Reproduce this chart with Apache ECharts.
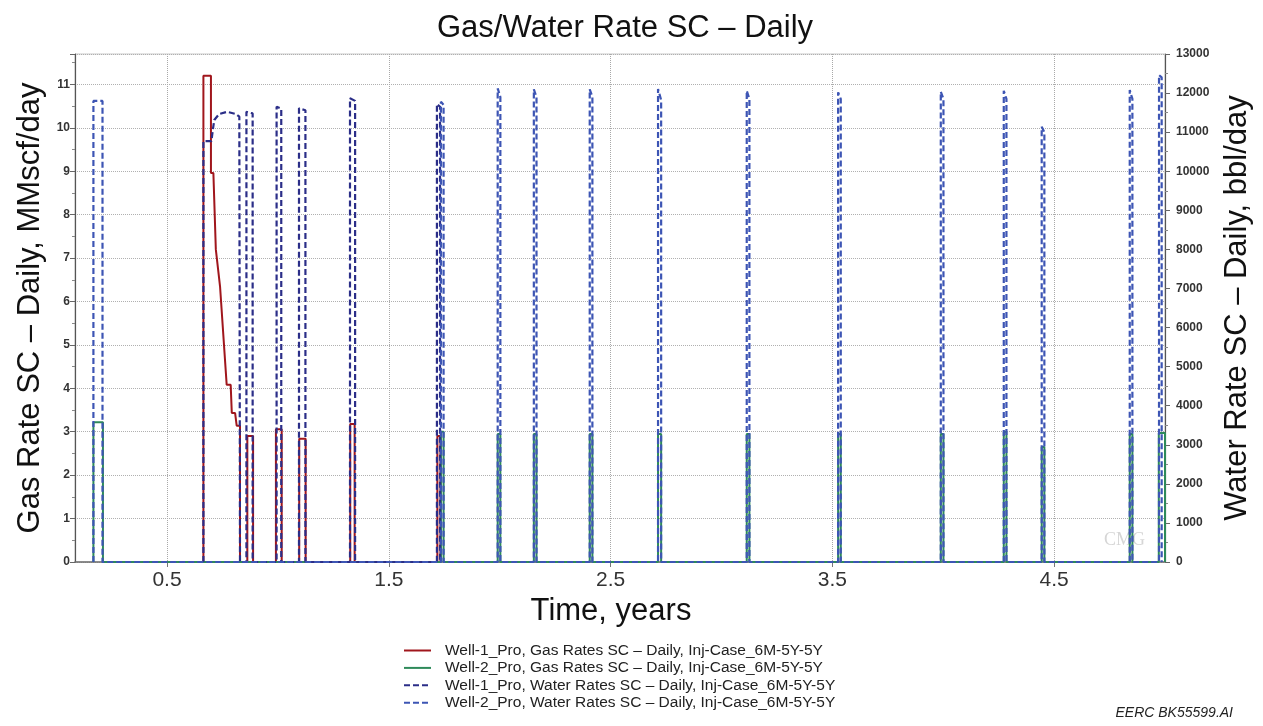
<!DOCTYPE html>
<html>
<head>
<meta charset="utf-8">
<script src="https://cdn.jsdelivr.net/npm/echarts@6/dist/echarts.min.js"></script>
<style>
html,body{margin:0;padding:0;background:#fff;}
#chart{width:1263px;height:726px;}
</style>
</head>
<body>
<div id="chart"></div>
<script>
// ---------- DATA ----------
const chartTitle = 'Gas/Water Rate SC \u2013 Daily';
const seriesNames = [
  'Well-1_Pro, Gas Rates SC \u2013 Daily, Inj-Case_6M-5Y-5Y',
  'Well-2_Pro, Gas Rates SC \u2013 Daily, Inj-Case_6M-5Y-5Y',
  'Well-1_Pro, Water Rates SC \u2013 Daily, Inj-Case_6M-5Y-5Y',
  'Well-2_Pro, Water Rates SC \u2013 Daily, Inj-Case_6M-5Y-5Y'
];
const xTickLabels = [0.5, 1.5, 2.5, 3.5, 4.5];
const leftTicks = [0,1,2,3,4,5,6,7,8,9,10,11];
const rightTicks = [0,1000,2000,3000,4000,5000,6000,7000,8000,9000,10000,11000,12000,13000];

// Well-1 gas rate (MMscf/day)
const w1GasT = [0.664,0.664,0.698,0.698,0.709,0.720,0.729,0.739,0.769,0.787,0.792,0.807,0.814,0.829,0.829,
  0.862,0.862,0.888,0.888, 0.991,0.991,1.017,1.017, 1.096,1.096,1.125,1.125, 1.326,1.326,1.346,1.346,
  1.719,1.719,1.733,1.733];
const w1GasV = [0,11.2,11.2,8.96,8.96,7.2,7.2,6.35,4.08,4.08,3.43,3.43,3.14,3.14,0,
  0,2.9,2.9,0, 0,3.06,3.06,0, 0,2.84,2.84,0, 0,3.18,3.18,0,
  0,2.9,2.9,0];

// Well-2 gas rate (MMscf/day)
const w2GasT = [0.168,0.168,0.211,0.211, 1.735,1.735,1.747,1.747, 1.991,1.991,2.003,2.003,
  2.154,2.154,2.166,2.166, 2.406,2.406,2.418,2.418, 2.714,2.714,2.728,2.728, 3.114,3.114,3.126,3.126,
  3.526,3.526,3.538,3.538, 3.989,3.989,4.001,4.001, 4.273,4.273,4.285,4.285, 4.444,4.444,4.456,4.456,
  4.841,4.841,4.853,4.853, 4.972,4.972,5.0,5.0];
const w2GasV = [0,3.22,3.22,0, 0,3.0,3.0,0, 0,2.95,2.95,0,
  0,2.95,2.95,0, 0,2.95,2.95,0, 0,2.95,2.95,0, 0,2.95,2.95,0,
  0,2.95,2.95,0, 0,2.95,2.95,0, 0,3.0,3.0,0, 0,2.65,2.65,0,
  0,2.95,2.95,0, 0,2.97,2.97,0];

// Well-1 water rate (bbl/day)
const w1WaterT = [0.664,0.664,0.700,0.707,0.713,0.735,0.772,0.810,0.826,0.829,
  0.858,0.858,0.886,0.886, 0.994,0.994,1.015,1.015, 1.095,1.095,1.124,1.124,
  1.325,1.325,1.348,1.348, 1.717,1.717,1.731,1.731];
const w1WaterV = [0,10770,10770,11080,11310,11465,11520,11465,11395,0,
  0,11520,11480,0, 0,11650,11600,0, 0,11610,11560,0,
  0,11866,11800,0, 0,11720,11650,0];

// Well-2 water rate (bbl/day)
const w2WaterT = [0.168,0.168,0.209,0.209, 1.735,1.735,1.747,1.747, 1.991,1.991,2.003,2.003,
  2.154,2.154,2.166,2.166, 2.406,2.406,2.418,2.418, 2.714,2.714,2.728,2.728, 3.114,3.114,3.126,3.126,
  3.526,3.526,3.538,3.538, 3.989,3.989,4.001,4.001, 4.273,4.273,4.285,4.285, 4.444,4.444,4.456,4.456,
  4.841,4.841,4.853,4.853, 4.973,4.973,4.985,4.985];
const w2WaterV = [0,11800,11800,0, 0,11780,11700,0, 0,12120,11900,0,
  0,12096,11900,0, 0,12096,11900,0, 0,12104,11823,0, 0,12060,11850,0,
  0,12019,11850,0, 0,12035,11850,0, 0,12060,11850,0, 0,11140,11000,0,
  0,12079,11850,0, 0,12460,12400,0];

const colors = ['#A0161C', '#2E8A5A', '#2B2E88', '#3D55B4'];

// ---------- BUILD ----------
function zip(t, v){ return t.map((x,i)=>[x, v[i]]); }
const FONT = '"Liberation Sans", Arial, sans-serif';

const chart = echarts.init(document.getElementById('chart'), null, {renderer:'canvas'});
const option = {
  backgroundColor: '#fff',
  animation: false,
  title: {
    text: chartTitle, left: 620, top: 8, textAlign: 'center',
    textStyle: {fontFamily: FONT, fontSize: 31, fontWeight: 'normal', color: '#111'}
  },
  legend: {
    orient: 'vertical', left: 403, top: 642, padding: 0,
    itemWidth: 27, itemHeight: 14, itemGap: 0.4,
    data: seriesNames,
    itemStyle: {opacity: 0},
    textStyle: {fontFamily: FONT, fontSize: 15.5, lineHeight: 17, color: '#222', padding: [0, 0, 0, 9]}
  },
  grid: {left: 75, right: 98, top: 54, bottom: 164, show: true, borderColor: '#c8c8c8', borderWidth: 1, containLabel: false},
  xAxis: {
    type: 'value', min: 0.085, max: 5.0,
    name: 'Time, years', nameLocation: 'middle', nameGap: 31,
    nameTextStyle: {fontFamily: FONT, fontSize: 31, color: '#111', padding: [0, 18, 0, 0]},
    axisLine: {show: true, onZero: false, lineStyle: {color: '#6d6d6d', width: 1.5}},
    axisTick: {show: true, customValues: xTickLabels, length: 5, lineStyle: {color: '#777'}},
    axisLabel: {customValues: xTickLabels, fontFamily: FONT, fontSize: 21, color: '#333', margin: 8,
      formatter: v => String(v)},
    splitLine: {show: true, lineStyle: {color: '#a8a8a8', type: 'dotted', width: 1}}
  },
  yAxis: [
    {
      type: 'value', min: 0, max: 11.7, interval: 1, position: 'left',
      name: 'Gas Rate SC \u2013 Daily, MMscf/day', nameLocation: 'middle', nameGap: 28, nameRotate: 90,
      nameTextStyle: {fontFamily: FONT, fontSize: 31, color: '#111'},
      axisLine: {show: true, lineStyle: {color: '#555', width: 1.2}},
      axisTick: {show: true, length: 5, lineStyle: {color: '#666'}},
      minorTick: {show: true, splitNumber: 2, length: 3, lineStyle: {color: '#888'}},
      axisLabel: {fontFamily: FONT, fontSize: 12, fontWeight: 'bold', color: '#333', margin: 5, showMaxLabel: false,
        formatter: v => (leftTicks.indexOf(v) >= 0 ? String(v) : '')},
      splitLine: {show: true, lineStyle: {color: '#b0b0b0', type: 'dotted', width: 1}}
    },
    {
      type: 'value', min: 0, max: 13000, interval: 1000, position: 'right',
      name: 'Water Rate SC \u2013 Daily, bbl/day', nameLocation: 'middle', nameGap: 57, nameRotate: 90,
      nameTextStyle: {fontFamily: FONT, fontSize: 31, color: '#111'},
      axisLine: {show: true, lineStyle: {color: '#555', width: 1.2}},
      axisTick: {show: true, length: 5, lineStyle: {color: '#666'}},
      minorTick: {show: true, splitNumber: 2, length: 3, lineStyle: {color: '#888'}},
      axisLabel: {fontFamily: FONT, fontSize: 12, fontWeight: 'bold', color: '#333', margin: 11,
        formatter: v => (rightTicks.indexOf(v) >= 0 ? String(v) : '')},
      splitLine: {show: false}
    }
  ],
  series: [
    {name: seriesNames[0], type: 'line', yAxisIndex: 0, data: zip(w1GasT, w1GasV), symbol: 'none', z: 3,
      lineStyle: {color: colors[0], width: 2}, itemStyle: {color: colors[0]}},
    {name: seriesNames[1], type: 'line', yAxisIndex: 0, data: zip(w2GasT, w2GasV), symbol: 'none', z: 3,
      lineStyle: {color: colors[1], width: 2}, itemStyle: {color: colors[1]}},
    {name: seriesNames[2], type: 'line', yAxisIndex: 1, data: zip(w1WaterT, w1WaterV), symbol: 'none', z: 4,
      lineStyle: {color: colors[2], width: 2.2, type: [6, 3]}, itemStyle: {color: colors[2]}},
    {name: seriesNames[3], type: 'line', yAxisIndex: 1, data: zip(w2WaterT, w2WaterV), symbol: 'none', z: 4,
      lineStyle: {color: colors[3], width: 2.2, type: [6, 3]}, itemStyle: {color: colors[3]}}
  ],
  graphic: [
    {type: 'text', right: 30, top: 706, style: {text: 'EERC BK55599.AI', font: 'italic 14px ' + FONT, fill: '#222'}},
    {type: 'text', left: 1104, top: 531, style: {text: 'CMG', font: '18px "Liberation Serif", serif', fill: '#d6d6d6'}}
  ]
};
chart.setOption(option);
</script>
</body>
</html>
